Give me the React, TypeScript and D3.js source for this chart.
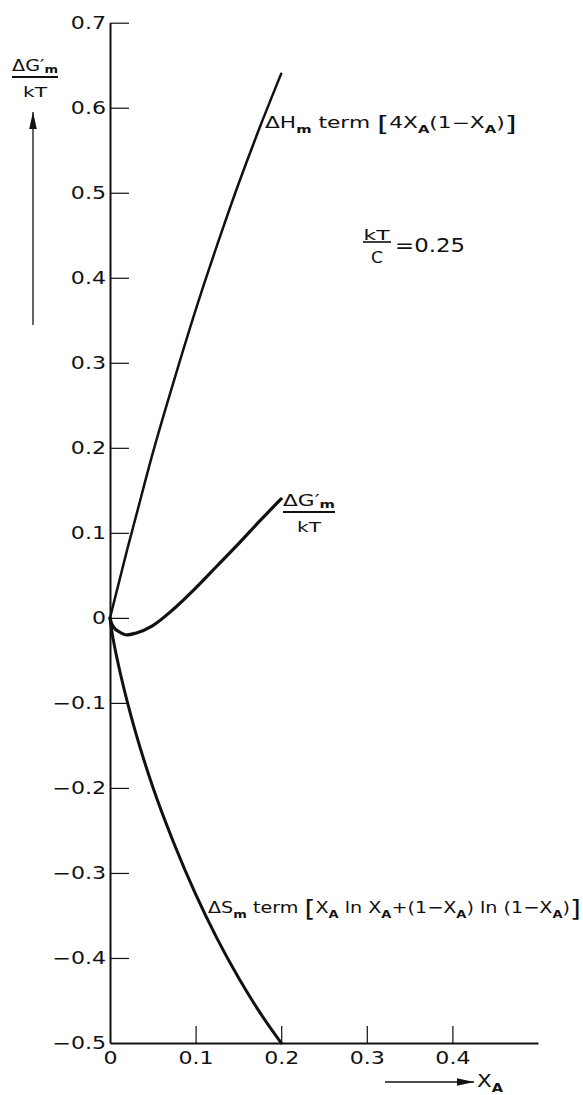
import { useEffect, useRef } from "react";
import * as d3 from "d3";

// values (kT/C = 0.25)
const moleFraction = [0, 0.001, 0.0025, 0.005, 0.01, 0.02, 0.03, 0.05, 0.075, 0.1, 0.125, 0.15, 0.175, 0.2];
const enthalpyTerm = [0, 0.004, 0.01, 0.02, 0.04, 0.08, 0.118, 0.194, 0.28, 0.362, 0.438, 0.51, 0.577, 0.64];
const entropyTerm = [0, -0.008, -0.018, -0.032, -0.056, -0.098, -0.135, -0.199, -0.266, -0.325, -0.377, -0.423, -0.464, -0.5];
const freeEnergy = [0, -0.004, -0.008, -0.012, -0.016, -0.02, -0.018, -0.009, 0.011, 0.035, 0.061, 0.087, 0.114, 0.14];

const yTicks = [0.7, 0.6, 0.5, 0.4, 0.3, 0.2, 0.1, 0, -0.1, -0.2, -0.3, -0.4, -0.5];
const xTicks = [0, 0.1, 0.2, 0.3, 0.4];

const FONT = "'DejaVu Sans', sans-serif";

type Part = { t: string; sub?: boolean; big?: boolean; dx?: number; shift?: number };

// writes a run of text with subscripts, then stretches it to the width seen in the figure
function drawText(
  parent: any,
  px: number,
  py: number,
  parts: Part[],
  size: number,
  width: number,
  anchor = "start"
) {
  const g = parent.append("g").attr("transform", `translate(${px},${py})`);
  const text = g
    .append("text")
    .attr("font-family", FONT)
    .attr("font-size", size)
    .attr("fill", "#111")
    .attr("text-anchor", anchor);
  let shift = 0;
  parts.forEach((p) => {
    const want = p.shift ?? (p.sub ? size * 0.3 : p.big ? size * 0.22 : 0);
    const fs = p.sub ? size * 0.68 : p.big ? size * 1.45 : size;
    text
      .append("tspan")
      .attr("dy", want - shift)
      .attr("dx", p.dx ?? 0)
      .attr("font-size", fs)
      .attr("font-weight", p.sub ? "bold" : null)
      .text(p.t);
    shift = want;
  });
  const len = (text.node() as SVGTextElement).getComputedTextLength();
  text.attr("transform", `scale(${width / len},1)`);
  return g;
}

export default function App() {
  const svgRef = useRef<SVGSVGElement>(null);

  useEffect(() => {
    const width = 583;
    const height = 1095;
    const svg = d3.select(svgRef.current);
    svg.attr("viewBox", `0 0 ${width} ${height}`);
    svg.selectAll("*").remove();

    svg.append("rect").attr("width", width).attr("height", height).attr("fill", "#fff");

    const x = d3.scaleLinear().domain([0, 0.5]).range([110, 538]);
    const y = d3.scaleLinear().domain([-0.5, 0.7]).range([1043, 22.7]);

    const fmt = (v: number) => (v === 0 ? "0" : d3.format(".1f")(v));

    // y axis, ticks point into the plot
    const yAxis = svg
      .append("g")
      .attr("transform", `translate(${x(0)},0)`)
      .call(
        d3
          .axisLeft(y)
          .tickValues(yTicks)
          .tickSizeInner(-19)
          .tickSizeOuter(0)
          .tickPadding(5)
          .tickFormat(fmt as any)
      );
    yAxis.selectAll(".tick").filter((d: any) => d === -0.5).select("line").remove();

    // x axis
    const xAxis = svg
      .append("g")
      .attr("transform", `translate(0,${y(-0.5)})`)
      .call(
        d3
          .axisBottom(x)
          .tickValues(xTicks)
          .tickSizeInner(-17)
          .tickSizeOuter(0)
          .tickPadding(9)
          .tickFormat(fmt as any)
      );
    xAxis.selectAll(".tick").filter((d: any) => d === 0).select("line").remove();

    [yAxis, xAxis].forEach((ax) => {
      ax.select(".domain").attr("stroke", "#111").attr("stroke-width", 2);
      ax.selectAll(".tick line").attr("stroke", "#111").attr("stroke-width", 1.2);
      ax.selectAll(".tick text")
        .attr("font-family", FONT)
        .attr("font-size", 17)
        .attr("fill", "#111");
    });
    yAxis.selectAll(".tick text").attr("x", 0).attr("transform", "translate(-4,0) scale(1.3,1)");
    xAxis.selectAll(".tick text").attr("transform", "scale(1.3,1)");

    // curves
    const rows = moleFraction.map((v, i) => ({
      x: v,
      h: enthalpyTerm[i],
      s: entropyTerm[i],
      g: freeEnergy[i],
    }));
    const curve = (key: "h" | "s" | "g") =>
      d3
        .line<any>()
        .x((d) => x(d.x))
        .y((d) => y(d[key]))
        .curve(d3.curveMonotoneX);

    const series: Array<["h" | "s" | "g", number]> = [
      ["h", 2.5],
      ["g", 3.2],
      ["s", 3],
    ];
    series.forEach(([key, w]) => {
      svg
        .append("path")
        .datum(rows)
        .attr("fill", "none")
        .attr("stroke", "#111")
        .attr("stroke-width", w)
        .attr("stroke-linecap", "round")
        .attr("d", curve(key));
    });

    // curve labels
    drawText(
      svg,
      265,
      128,
      [
        { t: "ΔH" },
        { t: "m", sub: true },
        { t: " term " },
        { t: "[", big: true },
        { t: "4X" },
        { t: "A", sub: true },
        { t: "(1−X" },
        { t: "A", sub: true },
        { t: ")" },
        { t: "]", big: true },
      ],
      15,
      252
    );

    drawText(
      svg,
      208,
      913,
      [
        { t: "ΔS" },
        { t: "m", sub: true },
        { t: " term " },
        { t: "[", big: true },
        { t: "X" },
        { t: "A", sub: true },
        { t: " ln X" },
        { t: "A", sub: true },
        { t: "+(1−X" },
        { t: "A", sub: true },
        { t: ") ln (1−X" },
        { t: "A", sub: true },
        { t: ")" },
        { t: "]", big: true },
      ],
      16,
      373
    );

    const fraction = (
      left: number,
      right: number,
      barY: number,
      top: Part[],
      topSize: number,
      bottom: string,
      bottomSize: number,
      bottomWidth: number
    ) => {
      drawText(svg, left, barY - 6, top, topSize, right - left);
      svg
        .append("line")
        .attr("x1", left)
        .attr("x2", right)
        .attr("y1", barY)
        .attr("y2", barY)
        .attr("stroke", "#111")
        .attr("stroke-width", 1.8);
      drawText(svg, (left + right) / 2, barY + 20, [{ t: bottom }], bottomSize, bottomWidth, "middle");
    };

    const dG: Part[] = [{ t: "ΔG′" }, { t: "m", sub: true, shift: 2 }];
    fraction(12, 58, 77, dG, 15, "kT", 14, 24);
    fraction(283, 335, 512, dG, 15, "kT", 14, 24);

    // kT/C = 0.25
    drawText(svg, 376.5, 239.5, [{ t: "kT" }], 14, 26, "middle");
    svg
      .append("line")
      .attr("x1", 363)
      .attr("x2", 391)
      .attr("y1", 242)
      .attr("y2", 242)
      .attr("stroke", "#111")
      .attr("stroke-width", 1.6);
    drawText(svg, 377, 263, [{ t: "C" }], 15, 12, "middle");
    drawText(svg, 395, 252, [{ t: "=0.25" }], 19, 70);

    // axis arrows
    const arrow = (x1: number, y1: number, x2: number, y2: number) => {
      svg
        .append("line")
        .attr("x1", x1)
        .attr("y1", y1)
        .attr("x2", x2)
        .attr("y2", y2)
        .attr("stroke", "#111")
        .attr("stroke-width", 1.3);
      const a = Math.atan2(y2 - y1, x2 - x1);
      const len = 17;
      const hw = 3.8;
      const bx = x2 - len * Math.cos(a);
      const by = y2 - len * Math.sin(a);
      svg
        .append("path")
        .attr(
          "d",
          `M${x2},${y2}L${bx - hw * Math.sin(a)},${by + hw * Math.cos(a)}L${bx + hw * Math.sin(a)},${by - hw * Math.cos(a)}Z`
        )
        .attr("fill", "#111");
    };
    arrow(33, 325, 33, 112);
    arrow(385, 1082, 474, 1082);

    drawText(
      svg,
      477,
      1087,
      [{ t: "X" }, { t: "A", sub: true }],
      17,
      26
    );
  }, []);

  return (
    <svg
      ref={svgRef}
      width={583}
      height={1095}
      style={{ position: "absolute", left: 0, top: 0, display: "block" }}
      role="img"
    />
  );
}
